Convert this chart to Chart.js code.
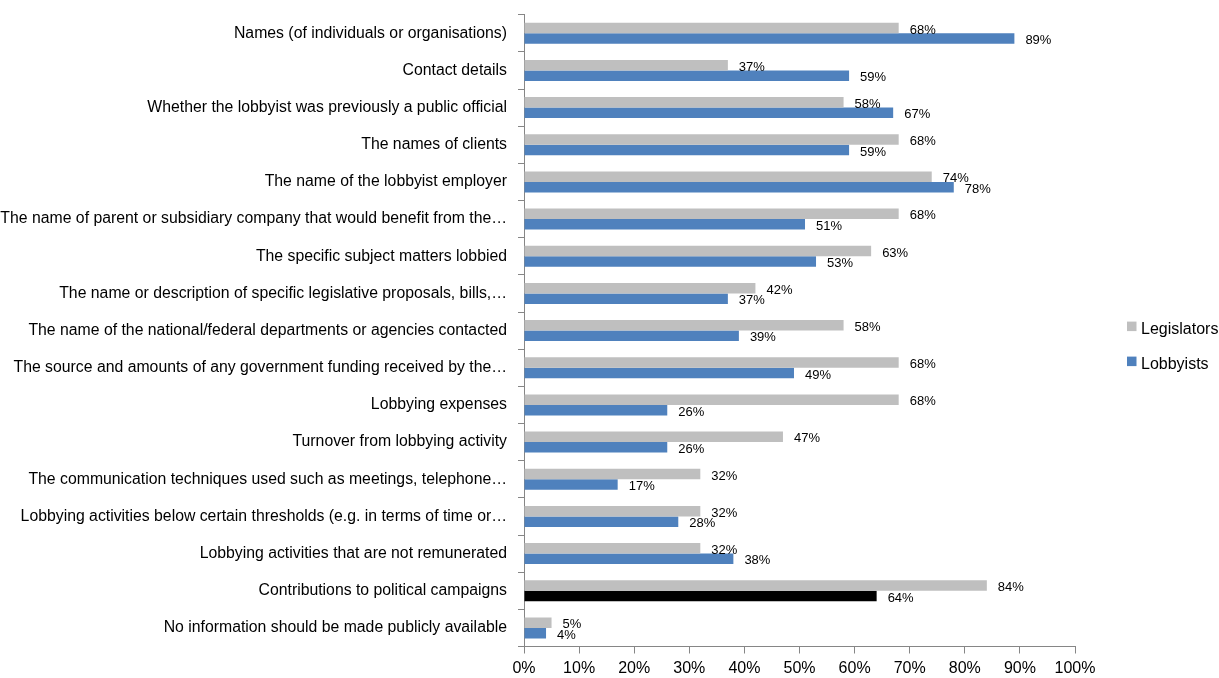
<!DOCTYPE html>
<html>
<head>
<meta charset="utf-8">
<title>Lobbying disclosure</title>
<script src="https://cdn.jsdelivr.net/npm/chart.js@4.4.1/dist/chart.umd.min.js"></script>
<style>
  html, body { margin: 0; padding: 0; background: #fff; }
  #wrap { width: 1219px; height: 678px; position: relative; }
</style>
</head>
<body>
<div id="wrap"><canvas id="chart"></canvas></div>
<script>
const categorias = [
  "Names (of individuals or organisations)",
  "Contact details",
  "Whether the lobbyist was previously a public official",
  "The names of clients",
  "The name of the lobbyist employer",
  "The name of parent or subsidiary company that would benefit from the…",
  "The specific subject matters lobbied",
  "The name or description of specific legislative proposals, bills,…",
  "The name of the national/federal departments or agencies contacted",
  "The source and amounts of any government funding received by the…",
  "Lobbying expenses",
  "Turnover from lobbying activity",
  "The communication techniques used such as meetings, telephone…",
  "Lobbying activities below certain thresholds (e.g. in terms of time or…",
  "Lobbying activities that are not remunerated",
  "Contributions to political campaigns",
  "No information should be made publicly available"
];
const legisladores = [68, 37, 58, 68, 74, 68, 63, 42, 58, 68, 68, 47, 32, 32, 32, 84, 5];
const lobistas = [89, 59, 67, 59, 78, 51, 53, 37, 39, 49, 26, 26, 17, 28, 38, 64, 4];
const ticksX = [0, 10, 20, 30, 40, 50, 60, 70, 80, 90, 100];

const FONTE = "'Liberation Sans', Arial, sans-serif";
const CINZA = "#bfbfbf";
const AZUL = "#4f81bd";

// a barra de contribuições dos lobistas fica em preto
const coresLobistas = lobistas.map((_, i) => i === 15 ? "#000000" : AZUL);

// rótulos de valor à direita de cada barra
const rotulosPlugin = {
  id: "rotulos",
  afterDatasetsDraw(chart) {
    const ctx = chart.ctx;
    ctx.save();
    ctx.font = "13px " + FONTE;
    ctx.fillStyle = "#000";
    ctx.textAlign = "left";
    ctx.textBaseline = "middle";
    chart.data.datasets.forEach((ds, di) => {
      const meta = chart.getDatasetMeta(di);
      meta.data.forEach((bar, i) => {
        ctx.fillText(ds.data[i] + "%", bar.x + 11, bar.y + 2);
      });
    });
    ctx.restore();
  }
};

// legenda desenhada à direita da área do gráfico
const legendaPlugin = {
  id: "legenda",
  afterDraw(chart) {
    const ctx = chart.ctx;
    const area = chart.chartArea;
    const x = area.right + 52;
    const meio = (area.top + area.bottom) / 2;
    ctx.save();
    ctx.font = "16px " + FONTE;
    ctx.textAlign = "left";
    ctx.textBaseline = "middle";
    chart.data.datasets.forEach((ds, di) => {
      const y = meio - 4.5 + di * 35;
      ctx.fillStyle = ds.legendColor;
      ctx.fillRect(x, y - 4.5, 9.5, 9.5);
      ctx.fillStyle = "#000";
      ctx.fillText(ds.label, x + 14, y + 3);
    });
    ctx.restore();
  }
};

new Chart(document.getElementById("chart"), {
  type: "bar",
  data: {
    labels: categorias,
    datasets: [
      {
        label: "Legislators",
        data: legisladores,
        backgroundColor: CINZA,
        legendColor: CINZA,
        categoryPercentage: 0.565,
        barPercentage: 1
      },
      {
        label: "Lobbyists",
        data: lobistas,
        backgroundColor: coresLobistas,
        legendColor: AZUL,
        categoryPercentage: 0.565,
        barPercentage: 1
      }
    ]
  },
  options: {
    indexAxis: "y",
    responsive: true,
    maintainAspectRatio: false,
    animation: false,
    layout: { padding: { top: 14.7, right: 144, left: 0, bottom: 0 } },
    plugins: {
      legend: { display: false },
      tooltip: { enabled: false }
    },
    scales: {
      x: {
        min: 0,
        max: 100,
        afterBuildTicks(scale) {
          scale.ticks = ticksX.map(v => ({ value: v }));
        },
        afterFit(scale) {
          scale.height = 31.5;
          scale.paddingLeft = 0;
          scale.paddingRight = 0;
        },
        border: { display: true, color: "#868686", width: 1 },
        grid: {
          drawOnChartArea: false,
          drawTicks: true,
          tickLength: 7,
          color: "#868686"
        },
        ticks: {
          callback: v => v + "%",
          color: "#000",
          padding: 5,
          maxRotation: 0,
          font: { family: FONTE, size: 16 }
        }
      },
      y: {
        afterFit(scale) {
          scale.width = 524;
          scale.paddingTop = 0;
          scale.paddingBottom = 0;
        },
        border: { display: true, color: "#868686", width: 1 },
        grid: {
          offset: true,
          drawOnChartArea: false,
          drawTicks: true,
          tickLength: 6,
          color: "#868686"
        },
        ticks: {
          color: "#000",
          padding: 11,
          autoSkip: false,
          font: { family: FONTE, size: 15.8 }
        }
      }
    }
  },
  plugins: [rotulosPlugin, legendaPlugin]
});
</script>
</body>
</html>
